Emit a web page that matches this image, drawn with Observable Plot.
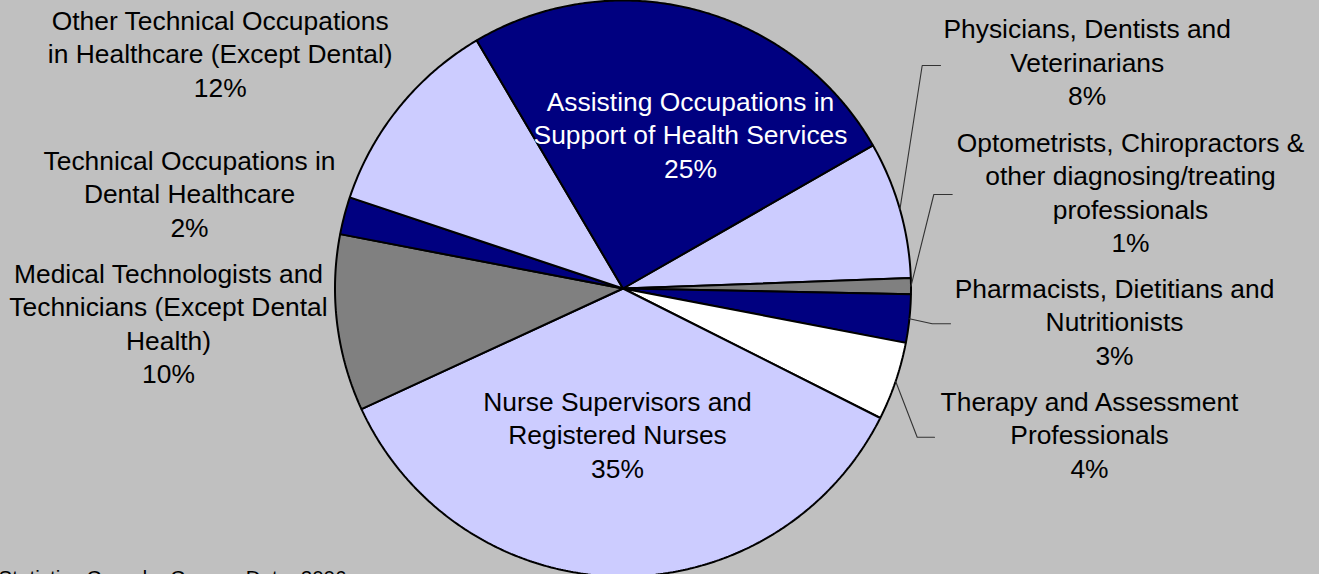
<!DOCTYPE html>
<html><head><meta charset="utf-8">
<script src="https://cdn.jsdelivr.net/npm/d3@7"></script>
<script src="https://cdn.jsdelivr.net/npm/@observablehq/plot@0.6"></script>
<style>html,body{margin:0;padding:0;background:#c0c0c0;overflow:hidden}</style>
</head><body><div id="chart"></div>
<script>
// ---- data ----
const categories = [
  "Physicians, Dentists and\nVeterinarians",
  "Optometrists, Chiropractors &\nother diagnosing/treating\nprofessionals",
  "Pharmacists, Dietitians and\nNutritionists",
  "Therapy and Assessment\nProfessionals",
  "Nurse Supervisors and\nRegistered Nurses",
  "Medical Technologists and\nTechnicians (Except Dental\nHealth)",
  "Technical Occupations in\nDental Healthcare",
  "Other Technical Occupations\nin Healthcare (Except Dental)",
  "Assisting Occupations in\nSupport of Health Services"
];
const values = [7.7, 0.9, 2.7, 4.4, 35.7, 9.9, 2.1, 11.4, 25.2];
const percentLabels = ["8%", "1%", "3%", "4%", "35%", "10%", "2%", "12%", "25%"];
const sliceColors = ["#ccccff", "#808080", "#000080", "#ffffff", "#ccccff", "#808080", "#000080", "#ccccff", "#000080"];
const labelColors = ["black", "black", "black", "black", "black", "black", "black", "black", "white"];
const source = "Statistics Canada, Census Data, 2006";

// ---- layout ----
const W = 1319, H = 574, CX = 622.5, CY = 288, R = 288;
const START_DEG = 60.2;
const FONT = "'Liberation Sans', Arial, Helvetica, sans-serif";
const FS = 26.4, LH = 1.27;
// label block top-centre in pixels
const labelPos = [
  [1086.7, 14], [1130, 127.5], [1114, 273.5], [1089, 386.5],
  [617, 386.5], [168, 258.5], [189, 145.5], [219.7, 5.5], [690, 86.5]
];
// leader lines: [elbowX, elbowY, endX] in pixels, null = none
const leaders = [[921.7, 65, 940], [933.3, 194, 951.7], [931.7, 323.3, 950], [916.7, 436.7, 934],
  null, null, null, null, null];

const ux = px => (px - CX) / R;
const uy = py => (CY - py) / R;

const arcs = d3.pie().sort(null).value(d => d)
  .startAngle(START_DEG * Math.PI / 180)
  .endAngle(START_DEG * Math.PI / 180 + 2 * Math.PI)(values);

const slicePts = [];
arcs.forEach((a, i) => {
  const n = Math.max(2, Math.ceil((a.endAngle - a.startAngle) / (Math.PI / 360)));
  slicePts.push({k: i, x: 0, y: 0, c: sliceColors[i]});
  for (let j = 0; j <= n; j++) {
    const t = a.startAngle + (a.endAngle - a.startAngle) * j / n;
    slicePts.push({k: i, x: Math.sin(t), y: Math.cos(t), c: sliceColors[i]});
  }
  slicePts.push({k: i, x: 0, y: 0, c: sliceColors[i]});
});

const leaderPts = [];
arcs.forEach((a, i) => {
  const L = leaders[i];
  if (!L) return;
  const m = (a.startAngle + a.endAngle) / 2;
  leaderPts.push({k: i, x: Math.sin(m), y: Math.cos(m)});
  leaderPts.push({k: i, x: ux(L[0]), y: uy(L[1])});
  leaderPts.push({k: i, x: ux(L[2]), y: uy(L[1])});
});

const labels = categories.map((c, i) => ({
  text: c + "\n" + percentLabels[i],
  x: ux(labelPos[i][0]), y: uy(labelPos[i][1]), color: labelColors[i]
}));

const chart = Plot.plot({
  width: W, height: H,
  marginTop: 0, marginRight: 0, marginBottom: 0, marginLeft: 0,
  style: {background: "#c0c0c0", fontFamily: FONT, overflow: "hidden"},
  x: {domain: [-1, 1], range: [CX - R, CX + R], axis: null},
  y: {domain: [-1, 1], range: [CY + R, CY - R], axis: null},
  color: {type: "identity"},
  marks: [
    Plot.line(slicePts, {x: "x", y: "y", z: "k", fill: "c", stroke: "black", strokeWidth: 2, strokeLinejoin: "miter", curve: "linear"}),
    Plot.line(leaderPts, {x: "x", y: "y", z: "k", stroke: "#333", strokeWidth: 1.1, curve: "linear"}),
    Plot.text(labels, {x: "x", y: "y", text: "text", fill: "color", fontSize: FS, lineHeight: LH,
      lineAnchor: "top", textAnchor: "middle", fontFamily: FONT}),
    Plot.text([source], {x: ux(-2), y: uy(584), text: d => d, textAnchor: "start", lineAnchor: "bottom",
      fontSize: 20.6, fill: "black", fontFamily: FONT})
  ]
});
document.getElementById("chart").appendChild(chart);
</script>
</body></html>
